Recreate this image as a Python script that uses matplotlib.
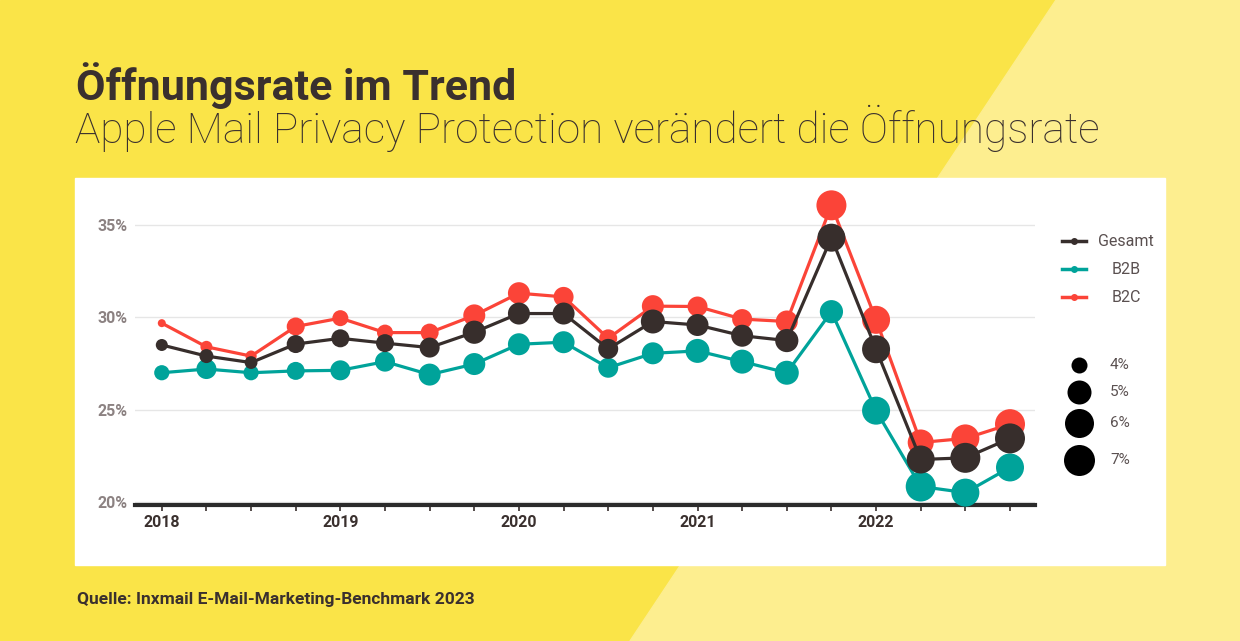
import numpy as np
import matplotlib.pyplot as plt
from matplotlib.patches import Polygon, Rectangle

# quarters 2018 Q1 .. 2022 Q4
quarters = 2018 + np.arange(20) * 0.25
year_labels = ['2018', '2019', '2020', '2021', '2022']

gesamt = [28.5, 27.9, 27.55, 28.55, 28.86, 28.6, 28.36, 29.19, 30.2, 30.2,
          28.29, 29.77, 29.58, 29.0, 28.74, 34.3, 28.27, 22.31, 22.4, 23.45]
b2b = [27.0, 27.2, 27.0, 27.1, 27.13, 27.6, 26.9, 27.47, 28.54, 28.65,
       27.27, 28.05, 28.18, 27.6, 27.0, 30.3, 24.95, 20.85, 20.52, 21.88]
b2c = [29.68, 28.4, 27.9, 29.5, 29.95, 29.17, 29.17, 30.1, 31.3, 31.1,
       28.86, 30.6, 30.58, 29.9, 29.77, 36.05, 29.86, 23.23, 23.45, 24.22]

# second metric shown as bubble size (in %)
gesamt_size = [3.5, 3.75, 3.6, 4.25, 4.25, 4.25, 4.5, 4.9, 4.75, 4.75,
               4.5, 5.0, 4.75, 4.75, 4.9, 5.8, 5.8, 5.8, 6.5, 6.5]
b2b_size = [3.9, 4.5, 3.9, 4.25, 4.5, 4.5, 4.75, 4.75, 4.75, 4.75,
            4.5, 4.75, 5.0, 5.0, 5.0, 4.9, 5.8, 6.5, 5.8, 5.8]
b2c_size = [3.0, 3.5, 3.4, 4.25, 4.0, 4.0, 4.25, 4.75, 4.75, 4.5,
            4.25, 4.75, 4.5, 4.5, 4.75, 6.5, 5.8, 5.4, 5.8, 6.5]
size_legend = [4, 5, 6, 7]

yticks = [20, 25, 30, 35]

DARK_Y = '#fae448'
LIGHT_Y = '#fdee8f'
C_GES = '#372e2c'
C_B2B = '#00a39a'
C_B2C = '#fb4438'
TXT = '#3a302e'


def diam(v):
    # bubble diameter in pixels
    return np.interp(v, [3, 4, 5, 6, 7], [8, 16, 24, 29, 31])


W, H = 1240, 641
fig = plt.figure(figsize=(W / 100, H / 100), dpi=100)

bg = fig.add_axes([0, 0, 1, 1])
bg.set_xlim(0, W)
bg.set_ylim(H, 0)
bg.axis('off')
bg.add_patch(Rectangle((0, 0), W, H, color=DARK_Y, zorder=0))
bg.add_patch(Polygon([(1056, 0), (630, H), (W, H), (W, 0)], closed=True, color=LIGHT_Y, zorder=1))
bg.add_patch(Rectangle((75, 178), 1090, 387, color='white', zorder=2))

bg.text(76, 100, 'Öffnungsrate im Trend', fontsize=31, fontweight='bold', color=TXT,
        family='Roboto', zorder=3)
bg.text(75, 143, 'Apple Mail Privacy Protection verändert die Öffnungsrate', fontsize=30.5,
        fontweight='light', color=TXT, family='Roboto', zorder=3)
bg.text(77, 604, 'Quelle: Inxmail E-Mail-Marketing-Benchmark 2023', fontsize=12.5,
        fontweight='bold', color=TXT, family='Roboto', zorder=3)

# legend (lines)
leg = [('Gesamt', C_GES, 1098), ('B2B', C_B2B, 1112), ('B2C', C_B2C, 1112)]
for i, (lab, c, tx) in enumerate(leg):
    yy = 241 + i * 28
    bg.plot([1062, 1086], [yy, yy], color=c, lw=2.5, zorder=3)
    bg.plot([1074], [yy], 'o', color=c, ms=4, zorder=3)
    bg.text(tx, yy, lab, fontsize=11.5, color='#5a5050', va='center', family='Roboto', zorder=3)

# legend (sizes)
for yy, v in zip([365, 392, 423, 460], size_legend):
    bg.plot([1079], [yy], 'o', color='black', ms=diam(v) * 0.72, mew=0, zorder=3)
    bg.text(1110, yy, f'{v}%', fontsize=11, color='#5a5050', va='center', family='Roboto', zorder=3)

# chart
ax = fig.add_axes([135 / W, (H - 505) / H, 900 / W, 308 / H])
ax.set_facecolor('none')
for vals, sz, c, z in [(b2c, b2c_size, C_B2C, 3), (b2b, b2b_size, C_B2B, 4), (gesamt, gesamt_size, C_GES, 5)]:
    ax.plot(quarters, vals, color=c, lw=2.3, zorder=z, clip_on=False)
    ax.scatter(quarters, vals, s=(diam(np.array(sz)) * 0.72) ** 2, color=c, lw=0, zorder=z, clip_on=False)

ax.set_xlim(2017.85, 2022.89)
ax.set_ylim(19.85, 36.5)
ax.set_yticks(yticks)
ax.set_yticklabels([f'{t}%' for t in yticks], fontsize=11.5, fontweight='bold', color='#8c8282', family='Roboto')
ax.grid(axis='y', color='#e6e6e6', lw=1)
ax.set_axisbelow(True)
ax.tick_params(axis='y', length=0, pad=5)
ax.set_xticks(quarters, minor=True)
ax.set_xticks(np.arange(2018, 2023))
ax.set_xticklabels(year_labels, fontsize=11.5, fontweight='bold', color=TXT, family='Roboto')
ax.tick_params(axis='x', which='both', length=4, width=1.2, color=C_GES, pad=3)
for s in ['top', 'right', 'left']:
    ax.spines[s].set_visible(False)
ax.spines['bottom'].set_linewidth(3)
ax.spines['bottom'].set_color('#2b2b2b')

fig.savefig('out.png', dpi=100)
